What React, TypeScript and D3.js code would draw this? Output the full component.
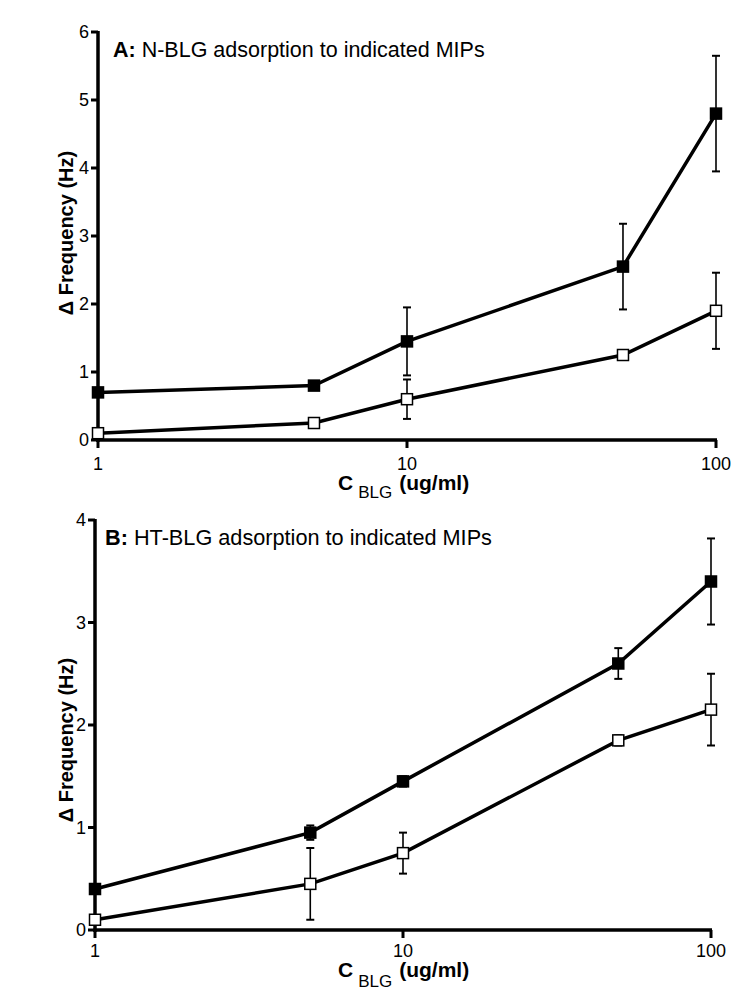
import React from "react";
import * as d3 from "d3";

const concentrations = [1, 5, 10, 50, 100];
const xTicks = [1, 10, 100];

const aFilled = [0.7, 0.8, 1.45, 2.55, 4.8];
const aFilledErr = [0.03, 0.03, 0.5, 0.63, 0.85];
const aOpen = [0.1, 0.25, 0.6, 1.25, 1.9];
const aOpenErr = [0.03, 0.02, 0.29, 0.03, 0.56];
const aTicks = [0, 1, 2, 3, 4, 5, 6];

const bFilled = [0.4, 0.95, 1.45, 2.6, 3.4];
const bFilledErr = [0.03, 0.07, 0.05, 0.15, 0.42];
const bOpen = [0.1, 0.45, 0.75, 1.85, 2.15];
const bOpenErr = [0.03, 0.35, 0.2, 0.05, 0.35];
const bTicks = [0, 1, 2, 3, 4];

const FONT = "'Liberation Sans', Arial, sans-serif";

type PanelProps = {
  x0: number; x1: number; y0: number; y1: number; yMax: number;
  yTicks: number[]; filled: number[]; filledErr: number[]; open: number[]; openErr: number[];
  letter: string; title: string; titleX: number; titleY: number; titleSize: number;
  labelX: number; labelMid: number; xTickOffset: number; xLabelY: number; subDy: number;
};

function Panel(p: PanelProps) {
  const x = d3.scaleLog().domain([1, 100]).range([p.x0, p.x1]);
  const y = d3.scaleLinear().domain([0, p.yMax]).range([p.y0, p.y1]);
  const line = d3.line<number>().x((_, i) => x(concentrations[i])).y((v) => y(v));
  const ms = 12.5;
  const errBars = (vals: number[], errs: number[], key: string) =>
    vals.map((v, i) => {
      const cx = x(concentrations[i]);
      const lo = y(v - errs[i]);
      const hi = y(v + errs[i]);
      return (
        <g key={key + i} stroke="#000" strokeWidth={1.6}>
          <line x1={cx} x2={cx} y1={lo} y2={hi} />
          <line x1={cx - 4} x2={cx + 4} y1={lo} y2={lo} strokeWidth={2} />
          <line x1={cx - 4} x2={cx + 4} y1={hi} y2={hi} strokeWidth={2} />
        </g>
      );
    });
  return (
    <g>
      <line x1={p.x0} x2={p.x0} y1={p.y0 + 2} y2={p.y1 - 1} stroke="#000" strokeWidth={3.5} />
      <line x1={p.x0 - 1.5} x2={p.x1 + 1} y1={p.y0} y2={p.y0} stroke="#000" strokeWidth={3.5} />
      {p.yTicks.map((t) => (
        <g key={"yt" + t}>
          <line x1={p.x0 - 7} x2={p.x0} y1={y(t)} y2={y(t)} stroke="#000" strokeWidth={3} />
          <text x={p.x0 - 9} y={y(t)} dy="0.36em" textAnchor="end" fontSize={18} fontFamily={FONT}>{t}</text>
        </g>
      ))}
      {xTicks.map((t) => (
        <g key={"xt" + t}>
          <line x1={x(t)} x2={x(t)} y1={p.y0} y2={p.y0 + 8} stroke="#000" strokeWidth={3} />
          <text x={x(t)} y={p.y0 + p.xTickOffset} dy="0.36em" textAnchor="middle" fontSize={18} fontFamily={FONT}>{t}</text>
        </g>
      ))}
      {errBars(p.filled, p.filledErr, "fe")}
      {errBars(p.open, p.openErr, "oe")}
      <path d={line(p.filled) || ""} fill="none" stroke="#000" strokeWidth={3.5} />
      <path d={line(p.open) || ""} fill="none" stroke="#000" strokeWidth={3.5} />
      {p.filled.map((v, i) => (
        <rect key={"fm" + i} x={x(concentrations[i]) - ms / 2} y={y(v) - ms / 2} width={ms} height={ms} fill="#000" />
      ))}
      {p.open.map((v, i) => (
        <rect key={"om" + i} x={x(concentrations[i]) - ms / 2 + 0.75} y={y(v) - ms / 2 + 0.75} width={ms - 1.5} height={ms - 1.5} fill="#fff" stroke="#000" strokeWidth={1.5} />
      ))}
      <text x={p.titleX} y={p.titleY} fontSize={p.titleSize} fontFamily={FONT}>
        <tspan fontWeight="bold">{p.letter}</tspan>
        <tspan> {p.title}</tspan>
      </text>
      <text transform={`translate(${p.labelX},${p.labelMid}) rotate(-90)`} textAnchor="middle" fontSize={20} fontWeight="bold" fontFamily={FONT}>
        Δ Frequency (Hz)
      </text>
      <text x={338} y={p.xLabelY} fontFamily={FONT} fontWeight="bold" fontSize={21}>
        C
        <tspan fontWeight="normal" fontSize={17} dx={5} dy={p.subDy}>BLG</tspan>
        <tspan fontSize={21} dx={7} dy={-p.subDy}>(ug/ml)</tspan>
      </text>
    </g>
  );
}

export default function App() {
  return (
    <svg width={750} height={996} style={{ position: "absolute", left: 0, top: 0, background: "#fff" }}>
      <rect width={750} height={996} fill="#fff" />
      <Panel x0={98} x1={716} y0={440} y1={32} yMax={6} yTicks={aTicks}
        filled={aFilled} filledErr={aFilledErr} open={aOpen} openErr={aOpenErr}
        letter="A:" title="N-BLG adsorption to indicated MIPs" titleX={113} titleY={57} titleSize={21.5}
        labelX={73} labelMid={233} xTickOffset={24} xLabelY={490} subDy={8} />
      <Panel x0={95} x1={711} y0={930} y1={520} yMax={4} yTicks={bTicks}
        filled={bFilled} filledErr={bFilledErr} open={bOpen} openErr={bOpenErr}
        letter="B:" title="HT-BLG adsorption to indicated MIPs" titleX={105} titleY={545} titleSize={21.7}
        labelX={73} labelMid={740} xTickOffset={21} xLabelY={977} subDy={10} />
    </svg>
  );
}
